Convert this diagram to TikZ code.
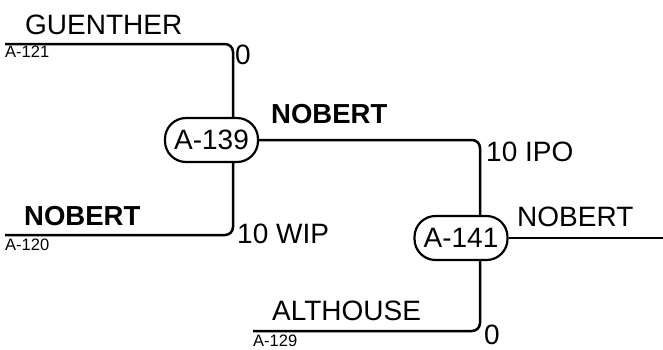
\documentclass[tikz,border=0pt]{standalone}
\usepackage{fontspec}
\setmainfont{Liberation Sans}
\begin{document}
\begin{tikzpicture}[x=1pt,y=-1pt,
  seed/.style={draw,line width=2.2pt,fill=white,rounded corners=21pt,minimum width=93pt,minimum height=44pt,inner sep=0pt,font=\fontsize{28}{32}\selectfont},
  link/.style={line width=2.5pt,rounded corners=8pt},
  big/.style={anchor=base west,inner sep=0pt,font=\fontsize{28}{32}\selectfont},
  bigb/.style={anchor=base west,inner sep=0pt,font=\fontsize{27.5}{32}\selectfont\bfseries},
  small/.style={anchor=base west,inner sep=0pt,font=\fontsize{16.5}{19}\selectfont}]
\useasboundingbox (0,0) rectangle (663,349);
\node[seed] (A139) at (211.5,140) {A-139};
\node[seed] (A141) at (461,238) {A-141};
\coordinate (e121) at (5,44);
\coordinate (e120) at (5,235);
\coordinate (e129) at (253,331);
\coordinate (out) at (663,238);
\coordinate (x1) at (233,0);
\coordinate (x2) at (480,0);
\draw[link] (e121) -| (x1 |- A139.north);
\draw[link] (e120) -| (x1 |- A139.south);
\draw[link] (A139.east) -| (x2 |- A141.north);
\draw[link] (e129) -| (x2 |- A141.south);
\draw[link] (A141.east) -- (out);
\node[big] (n1) at (25,34) {GUENTHER};
\node[small] (n2) at (5,57) {A-121};
\node[big] (n3) at (235,64) {0};
\node[bigb] (n4) at (271,123) {NOBERT};
\node[big] (n5) at (486,161) {10 IPO};
\node[bigb] (n6) at (24,225) {NOBERT};
\node[small] (n7) at (5,250) {A-120};
\node[big] (n8) at (237,243) {10 WIP};
\node[big] (n9) at (517,226) {NOBERT};
\node[big] (n10) at (272,320) {ALTHOUSE};
\node[small] (n11) at (253,346) {A-129};
\node[big] (n12) at (484,344) {0};
\end{tikzpicture}
\end{document}
